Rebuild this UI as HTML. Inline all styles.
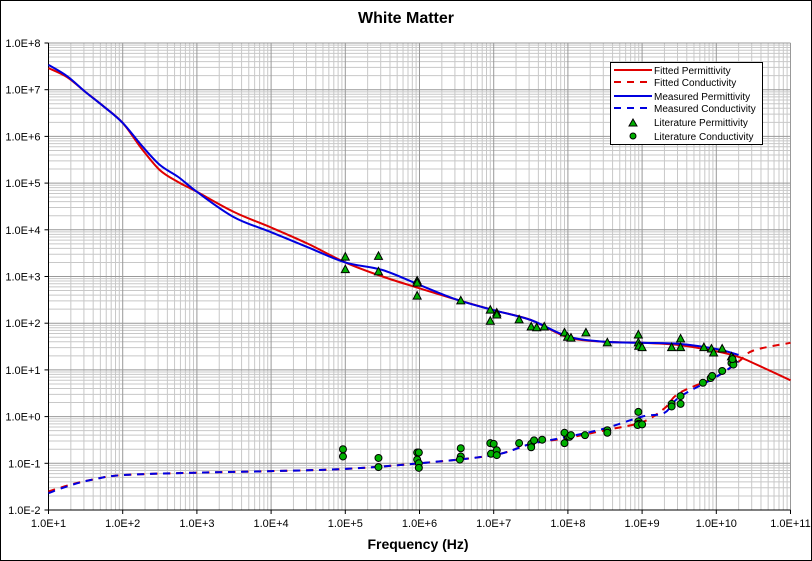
<!DOCTYPE html>
<html><head><meta charset="utf-8"><style>
html,body{margin:0;padding:0;background:#fff;}
#wrap{width:810px;height:559px;border:1px solid #000;position:relative;overflow:hidden;}
text{font-family:"Liberation Sans",sans-serif;}
</style></head><body>
<div id="wrap">
<svg id="chart" width="810" height="559" viewBox="1 1 810 559"></svg>
</div>
<script>
// ---- data ----
const fitPermFreq = [1e1,1.78e1,3.16e1,5.62e1,1e2,1.78e2,3.16e2,5.62e2,1e3,3.16e3,1e4,3.16e4,1e5,3.16e5,1e6,3.16e6,1e7,3.16e7,1e8,3.16e8,1e9,3.16e9,1e10,2e10,3.16e10,1e11];
const fitPermVal  = [2.9e7,1.86e7,8.9e6,4.3e6,1.95e6,5.6e5,1.9e5,1.05e5,6.5e4,2.4e4,1.12e4,5.0e3,2.0e3,1.0e3,5.6e2,3.2e2,1.9e2,1.17e2,5.0e1,4.0e1,3.8e1,3.4e1,2.5e1,1.9e1,1.4e1,6.0];
const measPermFreq = [1e1,1.78e1,3.16e1,5.62e1,1e2,1.78e2,3.16e2,5.62e2,1e3,3.16e3,1e4,3.16e4,1e5,3.16e5,1e6,3.16e6,1e7,3.16e7,1e8,3.16e8,1e9,3.16e9,1e10,2e10];
const measPermVal  = [3.4e7,1.95e7,8.9e6,4.3e6,1.95e6,6.5e5,2.45e5,1.35e5,6.5e4,1.86e4,8.9e3,4.2e3,2.0e3,1.38e3,6.6e2,3.2e2,1.9e2,1.17e2,5.2e1,4.0e1,3.8e1,3.6e1,2.8e1,2.1e1];
const fitCondFreq = [1e1,2e1,4e1,1e2,1e3,1e4,1e5,1e6,1e7,3.16e7,1e8,3.16e8,1e9,2e9,3.16e9,1e10,2e10,3.16e10,1e11];
const fitCondVal  = [0.025,0.035,0.045,0.056,0.063,0.068,0.076,0.10,0.15,0.26,0.35,0.51,0.76,1.5,3.2,7.1,15,26,38];
const measCondFreq = [1e1,2e1,4e1,1e2,1e3,1e4,1e5,1e6,1e7,3.16e7,1e8,3.16e8,1e9,2e9,3.16e9,1e10,2e10];
const measCondVal  = [0.023,0.034,0.045,0.056,0.063,0.068,0.076,0.10,0.15,0.26,0.37,0.56,1.0,1.2,2.6,7.1,15];
const litPermFreq = [1e5,1e5,2.8e5,2.8e5,9.3e5,9.3e5,9.3e5,3.6e6,9e6,9e6,1.1e7,1.1e7,2.2e7,3.2e7,3.8e7,4.8e7,9e7,9.9e7,1.1e8,1.75e8,3.4e8,8.9e8,8.9e8,9e8,1e9,2.5e9,3.3e9,3.3e9,6.8e9,8.6e9,9.2e9,1.2e10,1.6e10,1.7e10];
const litPermVal  = [2600,1400,2700,1260,800,720,380,300,190,110,165,150,118,83,80,83,62,50,48,62,38,56,38,32,30,30,46,30,30,28,23,28,19,17];
const litCondFreq = [9.3e4,9.3e4,2.8e5,2.8e5,9.3e5,9.8e5,9.3e5,9.8e5,9.8e5,3.6e6,3.6e6,3.5e6,9e6,1e7,9.2e6,1.1e7,1.1e7,2.2e7,3.2e7,3.2e7,3.5e7,4.5e7,1e8,9e7,9e7,1.05e8,1.1e8,1.7e8,3.4e8,3.4e8,8.9e8,8.9e8,9e8,8.7e8,1e9,2.5e9,2.5e9,3.3e9,3.3e9,6.6e9,8.4e9,8.8e9,1.2e10,1.6e10,1.7e10,1.65e10];
const litCondVal  = [0.2,0.14,0.13,0.083,0.17,0.17,0.12,0.1,0.08,0.21,0.14,0.12,0.27,0.26,0.16,0.19,0.15,0.27,0.26,0.22,0.31,0.32,0.37,0.45,0.27,0.37,0.4,0.4,0.51,0.45,1.26,0.79,0.7,0.66,0.68,1.87,1.65,2.75,1.87,5.3,6.7,7.4,9.5,14,13,17];
const xTickLabels = ["1.0E+1","1.0E+2","1.0E+3","1.0E+4","1.0E+5","1.0E+6","1.0E+7","1.0E+8","1.0E+9","1.0E+10","1.0E+11"];
const yTickLabels = ["1.0E-2","1.0E-1","1.0E+0","1.0E+1","1.0E+2","1.0E+3","1.0E+4","1.0E+5","1.0E+6","1.0E+7","1.0E+8"];

// ---- axes ----
const L=48.5,R=790.5,T=43,B=510;
const xMin=1,xMax=11,yMin=-2,yMax=8;
function X(f){return L+(Math.log10(f)-xMin)/(xMax-xMin)*(R-L);}
function Y(v){return B-(Math.log10(v)-yMin)/(yMax-yMin)*(B-T);}
const NS="http://www.w3.org/2000/svg";
const svg=document.getElementById('chart');
function mk(tag,attrs,parent){const e=document.createElementNS(NS,tag);for(const k in attrs)e.setAttribute(k,attrs[k]);(parent||svg).appendChild(e);return e;}

const bg=mk('rect',{x:L,y:T,width:R-L,height:B-T,fill:'#fff'});



const grid=mk('g',{});


for(let d=xMin;d<xMax;d++){for(let m=2;m<=9;m++){const x=X(m*Math.pow(10,d));mk('line',{x1:x,x2:x,y1:T,y2:B,stroke:'#c8c8c8','stroke-width':1},grid);}}
for(let d=yMin;d<yMax;d++){for(let m=2;m<=9;m++){const y=Y(m*Math.pow(10,d));mk('line',{x1:L,x2:R,y1:y,y2:y,stroke:'#c8c8c8','stroke-width':1},grid);}}
for(let d=xMin;d<=xMax;d++){const x=X(Math.pow(10,d));mk('line',{x1:x,x2:x,y1:T,y2:B,stroke:'#999','stroke-width':1},grid);}
for(let d=yMin;d<=yMax;d++){const y=Y(Math.pow(10,d));mk('line',{x1:L,x2:R,y1:y,y2:y,stroke:'#999','stroke-width':1},grid);}

const ax=mk('g',{});


mk('line',{x1:L,x2:L,y1:T,y2:B+4,stroke:'#000','stroke-width':1},ax);
mk('line',{x1:L-4,x2:R,y1:B,y2:B,stroke:'#000','stroke-width':1},ax);
xTickLabels.forEach((t,i)=>{const x=X(Math.pow(10,xMin+i));
 mk('line',{x1:x,x2:x,y1:B,y2:B+4,stroke:'#000'},ax);
 const tx=mk('text',{x:x,y:B+17,'font-size':11,'text-anchor':'middle',fill:'#000'},ax);tx.textContent=t;
 
 });
yTickLabels.forEach((t,i)=>{const y=Y(Math.pow(10,yMin+i));
 mk('line',{x1:L-4,x2:L,y1:y,y2:y,stroke:'#000'},ax);
 const tx=mk('text',{x:L-8,y:y+4,'font-size':11,'text-anchor':'end',fill:'#000'},ax);tx.textContent=t;
 
 });

function line(fs,vs,color,dash,name){
 const pts=fs.map((f,i)=>[X(f),Y(vs[i])]);
 let d='M'+pts[0][0].toFixed(1)+','+pts[0][1].toFixed(1);
 for(let i=0;i<pts.length-1;i++){
  const p0=pts[Math.max(0,i-1)],p1=pts[i],p2=pts[i+1],p3=pts[Math.min(pts.length-1,i+2)];
  const c1=[p1[0]+(p2[0]-p0[0])/6,p1[1]+(p2[1]-p0[1])/6];
  const c2=[p2[0]-(p3[0]-p1[0])/6,p2[1]-(p3[1]-p1[1])/6];
  d+=' C'+c1[0].toFixed(1)+','+c1[1].toFixed(1)+' '+c2[0].toFixed(1)+','+c2[1].toFixed(1)+' '+p2[0].toFixed(1)+','+p2[1].toFixed(1);
 }
 const p=mk('path',{d:d,fill:'none',stroke:color,'stroke-width':2});
 if(dash)p.setAttribute('stroke-dasharray','7,6');
 
 
}
line(fitCondFreq,fitCondVal,'#e00000',true,'fitted-conductivity-line');
line(measCondFreq,measCondVal,'#0000e0',true,'measured-conductivity-line');
line(fitPermFreq,fitPermVal,'#e00000',false,'fitted-permittivity-line');
line(measPermFreq,measPermVal,'#0000e0',false,'measured-permittivity-line');

const tg=mk('g',{});


litPermFreq.forEach((f,i)=>{const x=X(f),y=Y(litPermVal[i]);
 const p=mk('polygon',{points:`${x},${y-4.5} ${x-4},${y+3} ${x+4},${y+3}`,fill:'#00b000',stroke:'#000','stroke-width':1},tg);
 
 });
const cg=mk('g',{});


litCondFreq.forEach((f,i)=>{
 const c=mk('circle',{cx:X(f),cy:Y(litCondVal[i]),r:3.5,fill:'#00b000',stroke:'#000','stroke-width':1},cg);
 
 });
</script>
<svg width="812" height="561" style="position:absolute;left:0;top:0">
<text x="406" y="23" font-size="16" font-weight="bold" text-anchor="middle" font-family="Liberation Sans, sans-serif">White Matter</text>
<text x="418" y="549" font-size="14" font-weight="bold" text-anchor="middle" font-family="Liberation Sans, sans-serif">Frequency (Hz)</text>
<g font-family="Liberation Sans, sans-serif" font-size="10">
<rect x="610.5" y="62.5" width="152" height="82" fill="#fff" stroke="#000"/>
<g><line x1="614" x2="652" y1="70" y2="70" stroke="#e00000" stroke-width="2"/><text x="654" y="74">Fitted Permittivity</text></g>
<g><line x1="614" x2="652" y1="82" y2="82" stroke="#e00000" stroke-width="2" stroke-dasharray="7,6"/><text x="654" y="86">Fitted Conductivity</text></g>
<g><line x1="614" x2="652" y1="96" y2="96" stroke="#0000e0" stroke-width="2"/><text x="654" y="100">Measured Permittivity</text></g>
<g><line x1="614" x2="652" y1="108" y2="108" stroke="#0000e0" stroke-width="2" stroke-dasharray="7,6"/><text x="654" y="112">Measured Conductivity</text></g>
<g><polygon points="633,119 629,126 637,126" fill="#00b000" stroke="#000"/><text x="654" y="126">Literature Permittivity</text></g>
<g><circle cx="633" cy="136" r="3" fill="#00b000" stroke="#000"/><text x="654" y="140">Literature Conductivity</text></g>
</g>
</svg>
</body></html>
